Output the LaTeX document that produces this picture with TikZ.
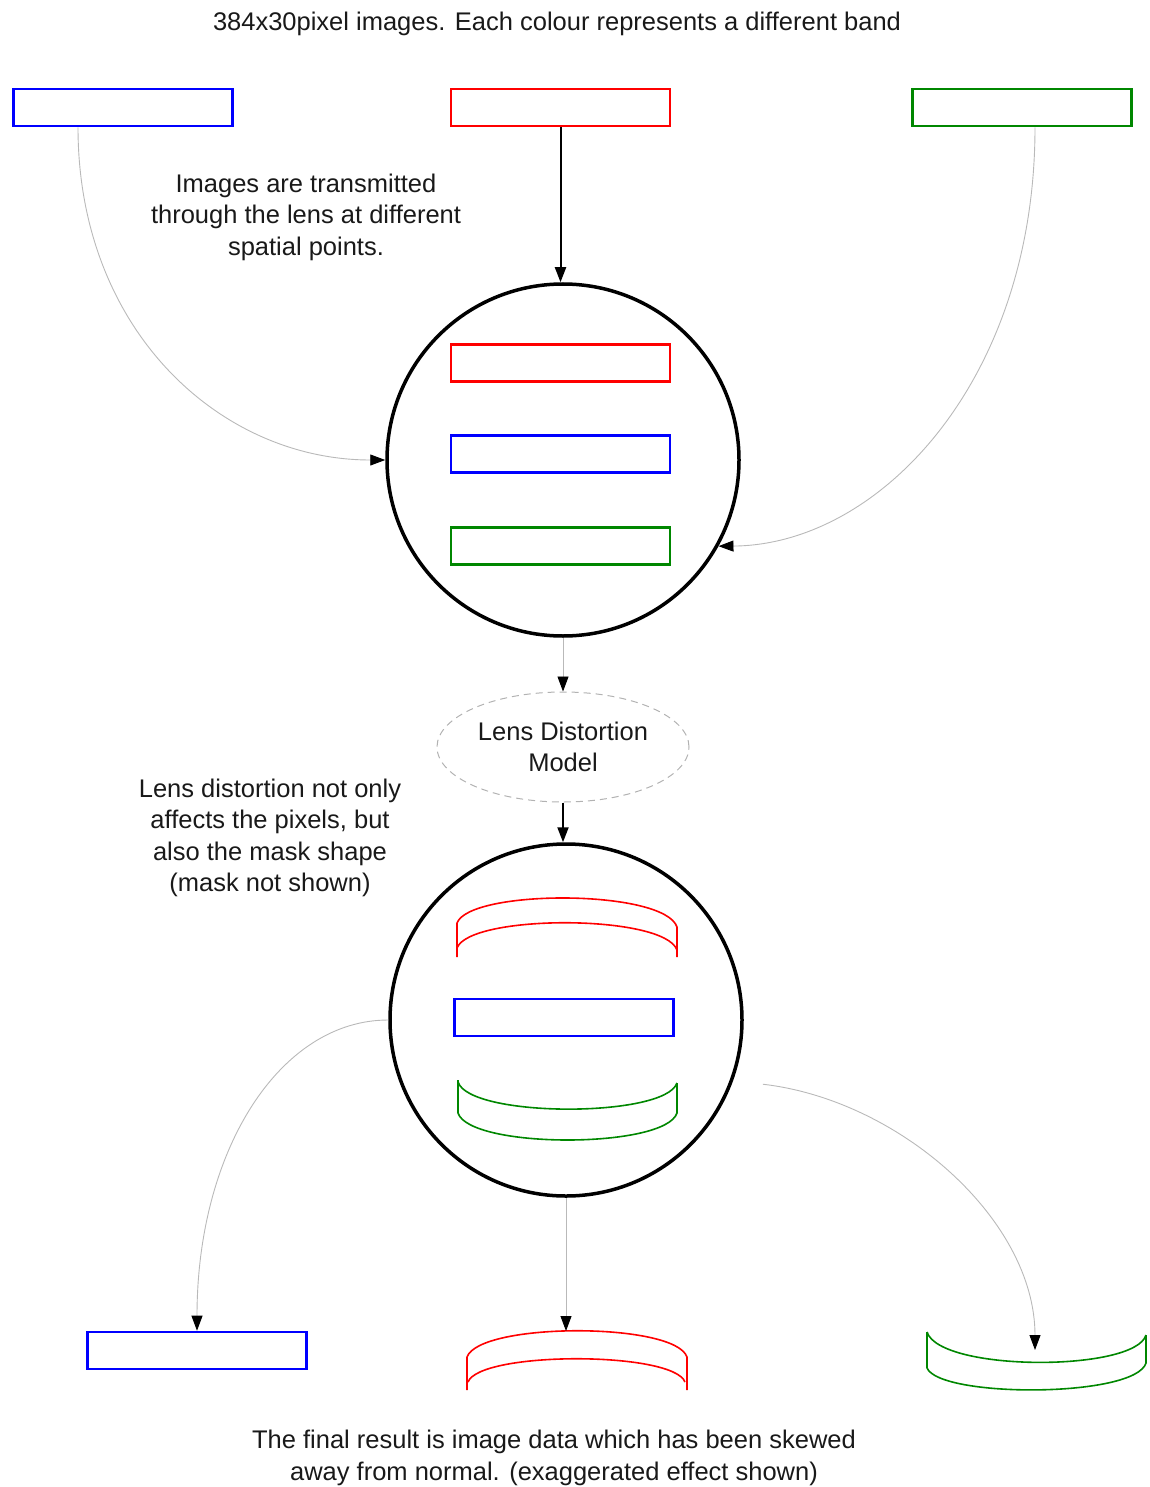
\documentclass[tikz,border=0pt]{standalone}
\usepackage{fontspec}
\setmainfont{Liberation Sans}
\usetikzlibrary{arrows.meta,shapes.geometric,calc}
\definecolor{bandblue}{RGB}{0,0,255}
\definecolor{bandred}{RGB}{255,0,0}
\definecolor{bandgreen}{RGB}{0,135,0}
\tikzset{
  bandbox/.style={draw, line width=2.6pt, minimum width=219pt, minimum height=37pt, inner sep=0pt},
  lens/.style={draw=black, circle, line width=3.5pt, minimum size=352pt, inner sep=0pt},
  model/.style={draw=gray!60, dashed, dash pattern=on 7pt off 5pt, ellipse, line width=1pt, minimum width=252pt, minimum height=110pt, inner sep=0pt},
  lbl/.style={align=center, text=black!90, font=\fontsize{25.5pt}{31.5pt}\selectfont},
  tip/.style={-{Triangle[length=15pt,width=11pt,color=black,fill=black]}},
  thick arrow/.style={tip, line width=2pt, draw=black},
  thin arrow/.style={tip, line width=0.9pt, draw=gray!55},
  warped/.style={line width=1.6pt, line join=round}
}
\begin{document}
\begin{tikzpicture}[x=1pt,y=-1pt]
\useasboundingbox (0,0) rectangle (1149,1487);

% title
\node[lbl] (title) at (557,24) {384x30pixel images. Each colour represents a different band};

% source images
\node[bandbox, draw=bandblue] (tb) at (123,107.5) {};
\node[bandbox, draw=bandred] (tr) at (560.5,107.5) {};
\node[bandbox, draw=bandgreen] (tg) at (1022,107.5) {};

% first lens
\node[lens] (c1) at (563,460) {};
\node[bandbox, draw=bandred] (ir) at (560.5,363) {};
\node[bandbox, draw=bandblue] (ib) at (560.5,454) {};
\node[bandbox, draw=bandgreen] (ig) at (560.5,546) {};

\node[lbl] (t1) at (306,217) {Images are transmitted\\through the lens at different\\spatial points.};

\draw[thick arrow] (tr.south) -- (tr.south |- c1.north);
\draw[thin arrow] ($(tb.south)+(-45,0)$) .. controls (78,330) and (220,460) .. (c1.west);
\draw[thin arrow] ($(tg.south)+(13,0)$) .. controls (1035,380) and (880,545) .. (c1.-29);

% model
\node[model] (ell) at (563,747) {};
\node[lbl] (t2) at (563,747) {Lens Distortion\\Model};
\draw[thin arrow] (c1.south) -- (ell.north);

\node[lbl] (t3) at (270,838) {Lens distortion not only\\affects the pixels, but\\also the mask shape\\(mask not shown)};

% second lens
\node[lens] (c2) at (566,1020) {};
\draw[thick arrow] (ell.south) -- (ell.south |- c2.north);

% distorted red inside
\draw[warped, bandred] (457,957) -- (457,923) .. controls (470,889) and (664,889) .. (677,927) -- (677,957);
\draw[warped, bandred] (457,948) .. controls (470,914) and (664,914) .. (677,950);
% blue inside
\node[bandbox, draw=bandblue] (ib2) at (564,1017.5) {};
% distorted green inside
\draw[warped, bandgreen] (458,1080) -- (458,1113) .. controls (470,1149) and (665,1149) .. (677,1113) -- (677,1083);
\draw[warped, bandgreen] (458,1082) .. controls (470,1118) and (665,1118) .. (677,1083);

% results
\node[bandbox, draw=bandblue] (bb) at (197,1350.5) {};
\coordinate (rtop) at (567,1331);
\draw[warped, bandred] (467,1390) -- (467,1357) .. controls (480,1322) and (675,1322) .. (687,1357) -- (687,1390);
\draw[warped, bandred] (468,1382) .. controls (480,1351) and (673,1351) .. (685,1382);
\coordinate (gtop) at (1035,1350);
\draw[warped, bandgreen] (927,1332) -- (927,1368) .. controls (940,1398) and (1135,1398) .. (1146,1363) -- (1146,1335);
\draw[warped, bandgreen] (927,1332) .. controls (940,1372) and (1135,1372) .. (1146,1335);

\draw[thin arrow] (c2.west) .. controls (280,1020) and (197,1150) .. (bb.north);
\draw[thin arrow] (c2.south) -- (c2.south |- rtop);
\draw[thin arrow, shorten <=30pt] (c2.-20.6) .. controls (900,1100) and (1035,1220) .. (gtop);

\node[lbl] (t4) at (554,1458) {The final result is image data which has been skewed\\away from normal. (exaggerated effect shown)};
\end{tikzpicture}
\end{document}
